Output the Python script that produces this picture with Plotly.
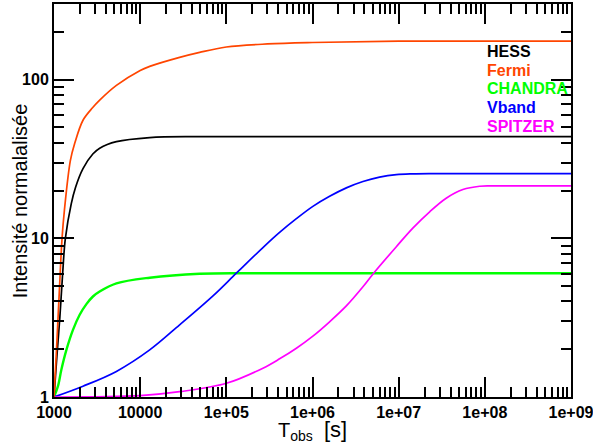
import plotly.graph_objects as go

# ---- data ----
names = ["HESS", "Fermi", "CHANDRA", "Vband", "SPITZER"]
colors = ["#000000", "#FF4500", "#00FF00", "#0000FF", "#FF00FF"]

t_hess = [1000, 1080, 1170, 1260, 1355, 1585, 1780, 2170, 2820, 3390, 5300, 12900, 49000, 1e6, 1e9]
i_hess = [1.0, 1.8, 3.2, 6.0, 10.0, 16.5, 21.0, 27.5, 34.0, 37.0, 40.7, 43.2, 43.8, 43.8, 43.8]

t_fermi = [1000, 1070, 1150, 1240, 1320, 1550, 1740, 2170, 2800, 3390, 5300, 10000, 12900, 28700, 49000,
           1e5, 3e5, 1e6, 1e7, 1e9]
i_fermi = [1.0, 2.0, 4.5, 10.0, 15.0, 31.0, 39.7, 55.5, 66.5, 74.3, 92.0, 114.4, 121.3, 138.3, 148.7,
           160.8, 168.0, 171.6, 174.9, 175.0]

t_chandra = [1000, 1112, 1219, 1393, 1660, 1986, 2377, 2830, 3388, 5300, 12900, 49000, 186000, 1e9]
i_chandra = [1.0, 1.17, 1.49, 1.98, 2.65, 3.3, 3.85, 4.3, 4.62, 5.2, 5.65, 5.98, 6.03, 6.03]

t_vband = [1000, 2170, 5300, 12900, 28700, 70000, 130600, 266000, 415000, 650000, 1.01e6, 1.58e6,
           2.47e6, 3.85e6, 6.0e6, 9.4e6, 1.46e7, 2.3e7, 1e9]
i_vband = [1.0, 1.17, 1.45, 1.98, 2.85, 4.34, 6.03, 8.75, 10.9, 13.3, 15.9, 18.4,
           20.8, 22.8, 24.3, 25.2, 25.5, 25.6, 25.6]

t_spitzer = [1000, 10000, 28700, 1e5, 266000, 415000, 650000, 1.01e6, 1.58e6, 2.47e6, 3.85e6, 5.15e6,
             9.4e6, 1.46e7, 2.29e7, 3.56e7, 5.56e7, 8.7e7, 1.26e8, 1e9]
i_spitzer = [1.0, 1.02, 1.08, 1.22, 1.52, 1.74, 2.03, 2.42, 2.98, 3.75, 4.95, 6.05,
             8.86, 11.6, 14.7, 17.9, 20.3, 21.3, 21.4, 21.4]

x_tickvals = [1e3, 1e4, 1e5, 1e6, 1e7, 1e8, 1e9]
x_ticktext = ["1000", "10000", "1e+05", "1e+06", "1e+07", "1e+08", "1e+09"]
y_tickvals = [1, 10, 100]
y_ticktext = ["1", "10", "100"]

series_t = [t_hess, t_fermi, t_chandra, t_vband, t_spitzer]
series_i = [i_hess, i_fermi, i_chandra, i_vband, i_spitzer]
widths = [1.7, 1.7, 2.4, 1.7, 1.7]

FONT = "Liberation Sans, Arial, Helvetica, sans-serif"

fig = go.Figure()
draw_order = [2, 3, 4, 0, 1]
for k in draw_order:
    fig.add_trace(go.Scatter(
        x=series_t[k], y=series_i[k], mode="lines", name=names[k],
        line=dict(color=colors[k], width=widths[k], shape="spline", smoothing=1.0),
        showlegend=False, hoverinfo="skip"))

# legend as coloured text
leg_y = [0.879, 0.832, 0.784, 0.737, 0.688]
for k in range(5):
    fig.add_annotation(xref="paper", yref="paper", x=0.834, y=leg_y[k], xanchor="left",
                       yanchor="middle", text="<b>%s</b>" % names[k], showarrow=False,
                       font=dict(family=FONT, size=16, color=colors[k]))

# axis titles
fig.add_annotation(xref="paper", yref="paper", x=0.5, y=-0.084, xanchor="center", yanchor="middle",
                   text="T<sub>obs</sub>  <span style='font-size:22px'>[s]</span>", showarrow=False,
                   font=dict(family=FONT, size=20, color="black"))
fig.add_annotation(xref="paper", yref="paper", x=-0.0663, y=0.5, xanchor="center", yanchor="middle",
                   text="Intensité normalalisée", textangle=-90, showarrow=False,
                   font=dict(family=FONT, size=20, color="black"))

x_minor = [m * 10 ** e for e in range(3, 9) for m in range(2, 10)]
y_minor = [m * 10 ** e for e in range(0, 3) for m in range(2, 10) if m * 10 ** e < 300]

axis_common = dict(
    showline=True, linecolor="black", linewidth=2, mirror="ticks",
    ticks="inside", ticklen=20, tickwidth=2, tickcolor="black",
    showgrid=False, zeroline=False, automargin=False,
    tickfont=dict(family=FONT, size=16, color="black"),
)

fig.update_xaxes(type="log", range=[3, 9], tickmode="array", tickvals=x_tickvals,
                 ticktext=["<b>%s</b>" % s for s in x_ticktext], ticklabeloverflow="allow",
                 minor=dict(tickmode="array", tickvals=x_minor, ticks="inside", ticklen=10,
                            tickwidth=2, tickcolor="black", showgrid=False),
                 **axis_common)
fig.update_yaxes(type="log", range=[0, 2.4771], tickmode="array", tickvals=y_tickvals,
                 ticktext=["<b>%s</b>" % s for s in y_ticktext], ticklabeloverflow="allow",
                 minor=dict(tickmode="array", tickvals=y_minor, ticks="inside", ticklen=10,
                            tickwidth=2, tickcolor="black", showgrid=False),
                 **axis_common)

fig.update_layout(
    width=593, height=443,
    margin=dict(l=54, r=22, t=4, b=46),
    paper_bgcolor="white", plot_bgcolor="white",
    font=dict(family=FONT),
)

fig.write_html("out.html", config={"displayModeBar": False},
               post_script="document.body.style.margin='0';document.body.style.overflow='hidden';")
